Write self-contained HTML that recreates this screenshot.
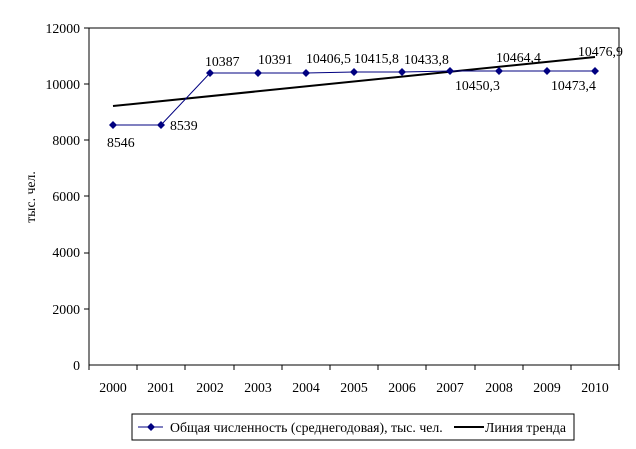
<!DOCTYPE html>
<html><head><meta charset="utf-8"><style>body{margin:0;background:#fff}</style></head><body>
<svg width="636" height="444" xmlns="http://www.w3.org/2000/svg" font-family="Liberation Serif, serif" font-size="13.8">
<rect width="636" height="444" fill="#fff"/>
<rect x="89" y="28" width="530" height="337" fill="none" stroke="#000" stroke-width="1"/>
<g text-anchor="end">
<text x="80" y="33">12000</text><text x="80" y="89">10000</text><text x="80" y="145">8000</text><text x="80" y="201">6000</text><text x="80" y="257">4000</text><text x="80" y="314">2000</text><text x="80" y="370">0</text>
</g>
<g stroke="#000"><line x1="84" y1="28" x2="89" y2="28"/><line x1="84" y1="84" x2="89" y2="84"/><line x1="84" y1="140" x2="89" y2="140"/><line x1="84" y1="196" x2="89" y2="196"/><line x1="84" y1="253" x2="89" y2="253"/><line x1="84" y1="309" x2="89" y2="309"/>
<path d="M89 365v5M137 365v5M185 365v5M234 365v5M282 365v5M330 365v5M378 365v5M426 365v5M475 365v5M523 365v5M571 365v5M619 365v5"/></g>
<g text-anchor="middle">
<text x="113" y="392">2000</text><text x="161" y="392">2001</text><text x="210" y="392">2002</text><text x="258" y="392">2003</text><text x="306" y="392">2004</text><text x="354" y="392">2005</text><text x="402" y="392">2006</text><text x="450" y="392">2007</text><text x="499" y="392">2008</text><text x="547" y="392">2009</text><text x="595" y="392">2010</text>
</g>
<text transform="translate(35,197) rotate(-90)" text-anchor="middle">тыс. чел.</text>
<line x1="113" y1="106" x2="595" y2="57" stroke="#000" stroke-width="2"/>
<polyline fill="none" stroke="#000080" stroke-width="1" points="113,125 161,125 210,73 258,73 306,73 354,72 402,72 450,71 499,71 547,71 595,71"/>
<g fill="#000080">
<path d="M113 121l4 4-4 4-4-4z"/><path d="M161 121l4 4-4 4-4-4z"/><path d="M210 69l4 4-4 4-4-4z"/><path d="M258 69l4 4-4 4-4-4z"/><path d="M306 69l4 4-4 4-4-4z"/><path d="M354 68l4 4-4 4-4-4z"/><path d="M402 68l4 4-4 4-4-4z"/><path d="M450 67l4 4-4 4-4-4z"/><path d="M499 67l4 4-4 4-4-4z"/><path d="M547 67l4 4-4 4-4-4z"/><path d="M595 67l4 4-4 4-4-4z"/>
</g>
<text x="107" y="147">8546</text>
<text x="170" y="130">8539</text>
<text x="205" y="66">10387</text>
<text x="258" y="64">10391</text>
<text x="306" y="63">10406,5</text>
<text x="354" y="63">10415,8</text>
<text x="404" y="64">10433,8</text>
<text x="455" y="90">10450,3</text>
<text x="496" y="62">10464,4</text>
<text x="551" y="90">10473,4</text>
<text x="578" y="56">10476,9</text>
<rect x="132" y="414" width="442" height="26" fill="#fff" stroke="#000"/>
<line x1="138" y1="427" x2="163" y2="427" stroke="#000080"/><path d="M151 423l4 4-4 4-4-4z" fill="#000080"/>
<text x="170" y="432">Общая численность (среднегодовая), тыс. чел.</text>
<line x1="454" y1="427" x2="484" y2="427" stroke="#000" stroke-width="2"/>
<text x="485" y="432">Линия тренда</text>
</svg>
</body></html>
